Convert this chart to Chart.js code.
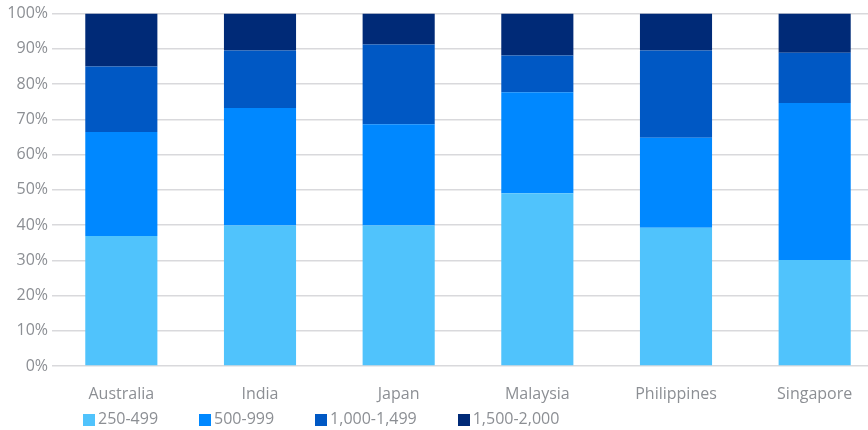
<!DOCTYPE html>
<html>
<head>
<meta charset="utf-8">
<script src="https://cdn.jsdelivr.net/npm/chart.js@4.4.1/dist/chart.umd.min.js"></script>
<style>
    body { margin: 0; overflow: hidden; background: #fff; }
    #wrap { position: relative; width: 868px; height: 430px; overflow: hidden; }
    #chart { position: absolute; left: 0; top: 0; }
    #legend {
        position: absolute; left: 83px; top: 407px;
        display: flex; gap: 41px;
        font-family: "Open Sans", sans-serif; font-size: 16px; color: #8c8f94;
    }
    #legend span.item { display: flex; align-items: center; }
    #legend span.box { width: 12px; height: 12px; margin-right: 3px; margin-top: 4px; }
</style>
</head>
<body>
<div id="wrap">
    <canvas id="chart" width="884" height="410"></canvas>
    <div id="legend"></div>
</div>
<script>
// Markets
const countries = ["Australia", "India", "Japan", "Malaysia", "Philippines", "Singapore"];

// Share of each band, %
const band250 = [36.9, 39.9, 39.9, 49.0, 39.2, 30.1];
const band500 = [29.5, 33.3, 28.7, 28.7, 25.6, 44.5];
const band1000 = [18.6, 16.3, 22.6, 10.4, 24.7, 14.3];
const band1500 = [15.0, 10.5, 8.8, 11.9, 10.5, 11.1];

const bandNames = ["250-499", "500-999", "1,000-1,499", "1,500-2,000"];
const bandColors = ["#50c3fc", "#0088ff", "#0058c4", "#002a77"];

const yTicks = [0, 10, 20, 30, 40, 50, 60, 70, 80, 90, 100];

const labelColor = "#8c8f94";
const gridColor = "#d9d9dc";

const series = [band250, band500, band1000, band1500];

const chart = new Chart(document.getElementById("chart"), {
    type: "bar",
    data: {
        labels: countries,
        datasets: series.map((vals, i) => ({
            label: bandNames[i],
            data: vals,
            backgroundColor: bandColors[i],
            borderWidth: 0,
            categoryPercentage: 1,
            barPercentage: 0.52,
        })),
    },
    options: {
        responsive: false,
        animation: false,
        layout: { padding: { top: 10, left: 0, right: 0, bottom: 0 } },
        plugins: {
            legend: { display: false },
            tooltip: { enabled: false },
        },
        scales: {
            x: {
                stacked: true,
                grid: { display: false },
                border: { display: false },
                ticks: {
                    color: labelColor,
                    padding: 11,
                    font: { family: "Open Sans", size: 16 },
                },
                afterFit: (s) => { s.height = 44; },
            },
            y: {
                stacked: true,
                min: 0,
                max: 100,
                afterBuildTicks: (s) => { s.ticks = yTicks.map((v) => ({ value: v })); },
                grid: { color: gridColor, lineWidth: 1.5, drawTicks: false },
                border: { display: false },
                ticks: {
                    color: labelColor,
                    padding: 4,
                    font: { family: "Open Sans", size: 16 },
                    callback: (v) => v + "%",
                },
                afterFit: (s) => { s.width = 52; },
            },
        },
    },
});

// Legend below the chart, built from the datasets
const legendEl = document.getElementById("legend");
chart.data.datasets.forEach((ds) => {
    const item = document.createElement("span");
    item.className = "item";
    const box = document.createElement("span");
    box.className = "box";
    box.style.background = ds.backgroundColor;
    item.appendChild(box);
    item.appendChild(document.createTextNode(ds.label));
    legendEl.appendChild(item);
});
</script>
</body>
</html>
